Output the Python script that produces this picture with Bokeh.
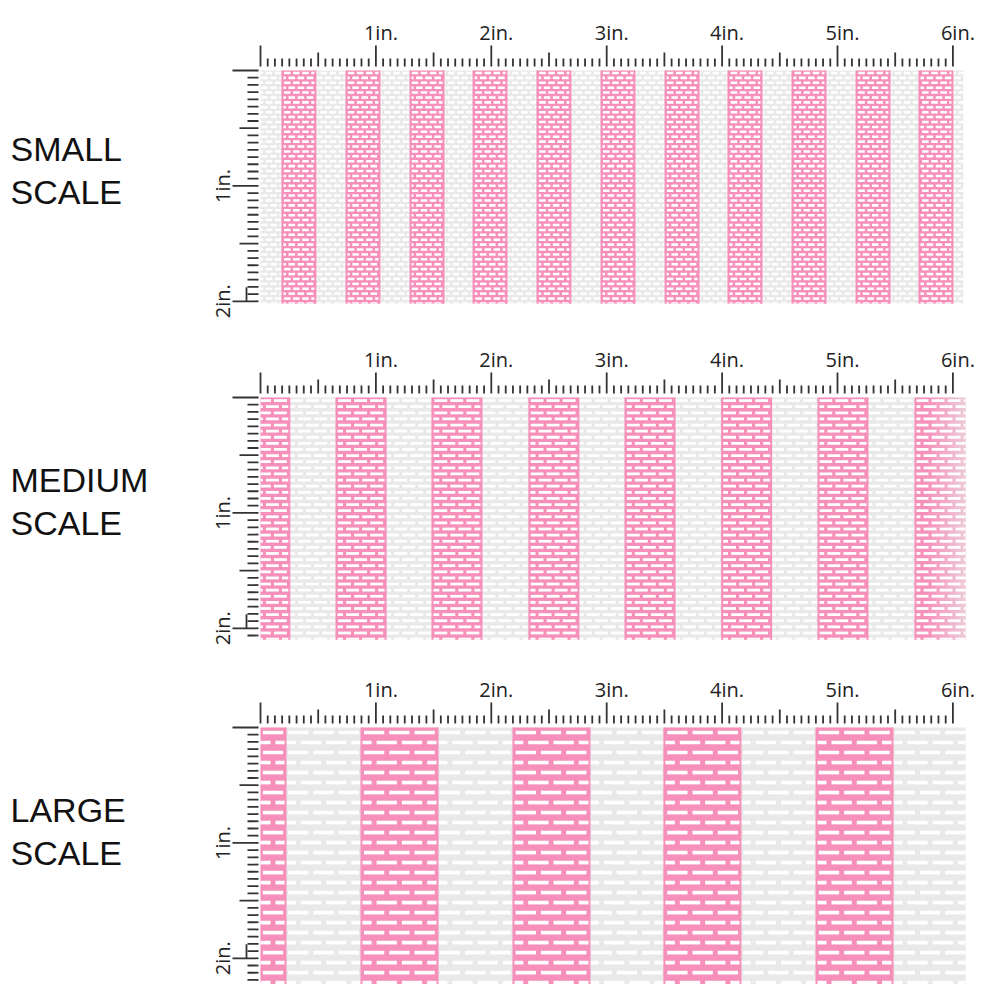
import numpy as np
from bokeh.plotting import figure
from bokeh.models import Range1d
from bokeh.layouts import column
from bokeh.core.properties import value
from bokeh.embed import file_html
from bokeh.resources import INLINE

# ---------------- data (inches) ----------------
scale_line1 = ["SMALL", "MEDIUM", "LARGE"]
scale_line2 = ["SCALE", "SCALE", "SCALE"]

inch_ticks = [1, 2, 3, 4, 5, 6]
inch_labels = ["1in.", "2in.", "3in.", "4in.", "5in.", "6in."]
side_ticks = [1, 2]
side_labels = ["1in.", "2in."]
ruler_length_in = 6
ruler_divisions = 16  # ticks per inch

fabric_w = [6.09, 6.11, 6.11]
fabric_h = [2.02, 2.10, 2.26]

stripe_left_small = [0.19, 0.745, 1.30, 1.846, 2.40, 2.955, 3.51, 4.055, 4.61, 5.165, 5.71]
stripe_width_small = [0.286] * 11
stripe_left_medium = [0.0, 0.659, 1.49, 2.33, 3.163, 4.0, 4.835, 5.676]
stripe_width_medium = [0.25, 0.425, 0.425, 0.425, 0.425, 0.425, 0.425, 0.434]
stripe_left_large = [0.0, 0.875, 2.192, 3.50, 4.818]
stripe_width_large = [0.217, 0.659, 0.659, 0.659, 0.659]

brick_w = [0.079, 0.139, 0.219]
brick_h = [0.0425, 0.053, 0.0867]
white_w = [0.057, 0.112, 0.176]
white_h = [0.022, 0.024, 0.032]
fade_last = [False, True, False]

stripe_lefts = [stripe_left_small, stripe_left_medium, stripe_left_large]
stripe_widths = [stripe_width_small, stripe_width_medium, stripe_width_large]

# ---------------- style / layout ----------------
PPI = 115.4
FIG_W, FIG_H = 984, 328
ORIGIN_X = 260
top_px = [70, 69, 71]
label_mid_px = [78.5, 82, 82]
PINK = "#f68fb9"
GREY = "#e9e9e9"
TICK = "#333333"


def brick_quads(i):
    bw, bh, ww, wh = brick_w[i], brick_h[i], white_w[i], white_h[i]
    W, H = fabric_w[i], fabric_h[i]
    origin = stripe_lefts[i][1]
    k0 = int(np.floor(origin / bw)) + 2
    x_start = origin - k0 * bw
    cols = int(np.ceil((W - x_start) / bw)) + 3
    rows = int(np.ceil(H / bh)) + 1
    L, R, T, B = [], [], [], []
    for r in range(rows):
        yc = (r + 0.5) * bh
        shift = bw / 2 if r % 2 else 0.0
        cx = x_start - shift + np.arange(cols) * bw + bw / 2
        l = np.clip(cx - ww / 2, 0, W)
        rr = np.clip(cx + ww / 2, 0, W)
        t = max(yc - wh / 2, 0)
        b = min(yc + wh / 2, H)
        keep = rr - l > 1e-4
        if b <= t:
            continue
        L.extend(l[keep]); R.extend(rr[keep])
        T.extend([t] * int(keep.sum())); B.extend([b] * int(keep.sum()))
    return L, R, T, B


figs = []
for i in range(3):
    t = top_px[i]
    p = figure(width=FIG_W, height=FIG_H, title=None,
               x_range=Range1d(-ORIGIN_X / PPI, (FIG_W - ORIGIN_X) / PPI),
               y_range=Range1d((FIG_H - t) / PPI, -t / PPI),
               output_backend="svg", toolbar_location=None, min_border=0,
               x_axis_location=None, y_axis_location=None)
    p.grid.visible = False
    p.outline_line_color = None
    p.background_fill_color = "white"
    p.border_fill_color = "white"

    W, H = fabric_w[i], fabric_h[i]
    # fabric ground
    p.quad(left=[0], right=[W], top=[0], bottom=[H], fill_color=GREY, line_color=None)

    lefts = np.array(stripe_lefts[i])
    widths = np.array(stripe_widths[i])
    rights = np.minimum(lefts + widths, W)
    if fade_last[i]:
        p.quad(left=lefts[:-1], right=rights[:-1], top=0, bottom=H, fill_color=PINK, line_color=None)
        nsl = 12
        edges = np.linspace(lefts[-1], rights[-1], nsl + 1)
        alphas = np.concatenate([np.ones(3), np.linspace(0.95, 0.35, nsl - 3)])
        p.quad(left=edges[:-1], right=edges[1:] + 0.002, top=0, bottom=H,
               fill_color=PINK, fill_alpha=alphas, line_color=None)
    else:
        p.quad(left=lefts, right=rights, top=0, bottom=H, fill_color=PINK, line_color=None)

    # bricks
    L, R, T, B = brick_quads(i)
    p.quad(left=L, right=R, top=T, bottom=B, fill_color="white", line_color=None)

    # stripe edges
    ex = [x for x in list(lefts) + list(rights) if 1e-3 < x < W - 1e-3]
    p.segment(x0=ex, y0=[0] * len(ex), x1=ex, y1=[H] * len(ex), line_color=PINK, line_width=2)

    # top ruler
    k = np.arange(0, ruler_length_in * ruler_divisions + 1)
    xs = k / ruler_divisions
    tick_len = np.where(k % ruler_divisions == 0, 21, np.where(k % (ruler_divisions // 2) == 0, 14, 8))
    y1 = -4 / PPI
    p.segment(x0=xs, y0=y1 - tick_len / PPI, x1=xs, y1=[y1] * len(xs),
              line_color=TICK, line_width=1.8)

    # side ruler
    ks = np.arange(0, int(np.floor(H * ruler_divisions)) + 1)
    ys = ks / ruler_divisions
    side_len = np.where(ks % ruler_divisions == 0, 26, np.where(ks % (ruler_divisions // 2) == 0, 19, 11))
    x1 = -2 / PPI
    p.segment(x0=x1 - side_len / PPI, y0=ys, x1=[x1] * len(ys), y1=ys,
              line_color=TICK, line_width=1.8)
    p.segment(x0=[-14 / PPI], y0=[2 - 14 / PPI], x1=[-14 / PPI], y1=[2],
              line_color=TICK, line_width=1.8)

    # ruler labels
    p.text(x=[v + 5 / PPI for v in inch_ticks], y=[-38.5 / PPI] * len(inch_ticks), text=inch_labels,
           text_font=value("Open Sans"), text_font_size="20px", text_color="#222222",
           text_align="center", text_baseline="middle")
    p.text(x=[-38 / PPI] * len(side_ticks), y=side_ticks, text=side_labels, angle=np.pi / 2,
           text_font=value("Open Sans"), text_font_size="20px", text_color="#222222",
           text_align="center", text_baseline="middle")

    # scale label
    mid = label_mid_px[i] / PPI
    p.text(x=[-250 / PPI] * 2, y=[mid, mid + 43 / PPI], text=[scale_line1[i], scale_line2[i]],
           text_font=value("Liberation Sans"), text_font_size="34px", text_color="#111111",
           text_align="left", text_baseline="middle")
    figs.append(p)

layout = column(*figs)
open("out.html", "w").write(file_html(layout, INLINE))
